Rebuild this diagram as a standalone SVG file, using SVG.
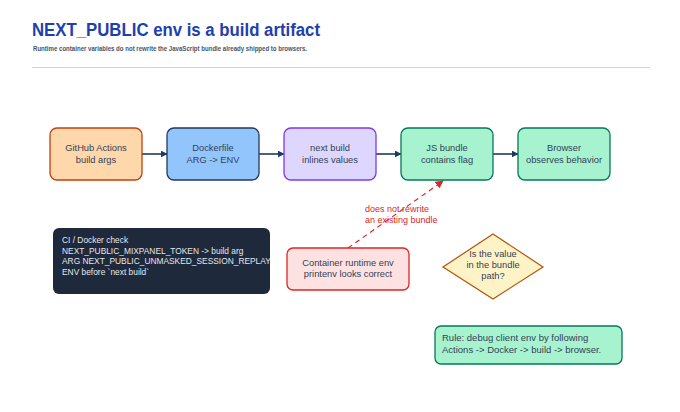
<svg xmlns="http://www.w3.org/2000/svg" width="680" height="412" viewBox="0 0 680 412">
<style>
.t{font-family:"Liberation Sans",Arial,sans-serif;}
.nt{font-family:"Liberation Sans",Arial,sans-serif;font-size:9.3px;fill:#334155;text-anchor:middle;}
.box{stroke-width:1.3;}
.edge{stroke:#1e3a5f;stroke-width:1.6;fill:none;}
</style>
<defs>
<marker id="ah" viewBox="0 0 10 10" refX="9" refY="5" markerWidth="7" markerHeight="7" orient="auto" markerUnits="userSpaceOnUse"><path d="M0,0 L10,5 L0,10 z" fill="#1e3a5f"/></marker>
<marker id="ahr" viewBox="0 0 10 10" refX="9" refY="5" markerWidth="8" markerHeight="8" orient="auto" markerUnits="userSpaceOnUse"><path d="M0,0 L10,5 L0,10 z" fill="#dc2626"/></marker>
<clipPath id="dc"><rect x="53" y="228" width="217" height="66" rx="6"/></clipPath>
</defs>
<rect width="680" height="412" fill="#ffffff"/>
<g id="header">
<text class="t" x="32" y="36" font-size="18" font-weight="bold" fill="#1e40af" textLength="288" lengthAdjust="spacingAndGlyphs">NEXT_PUBLIC env is a build artifact</text>
<text class="t" x="33" y="51" font-size="7.6" font-weight="bold" fill="#475569" textLength="274" lengthAdjust="spacingAndGlyphs">Runtime container variables do not rewrite the JavaScript bundle already shipped to browsers.</text>
<line x1="32" y1="67.5" x2="650" y2="67.5" stroke="#cbd5e1" stroke-width="1.2"/>
</g>
<g id="connectors">
<line class="edge" x1="142" y1="154" x2="167" y2="154" marker-end="url(#ah)"/>
<line class="edge" x1="259" y1="154" x2="284" y2="154" marker-end="url(#ah)"/>
<line class="edge" x1="376" y1="154" x2="401" y2="154" marker-end="url(#ah)"/>
<line class="edge" x1="493" y1="154" x2="518" y2="154" marker-end="url(#ah)"/>
<line x1="348" y1="248" x2="443" y2="181" stroke="#dc2626" stroke-width="1.2" stroke-dasharray="5,4" fill="none" marker-end="url(#ahr)"/>
<text class="t" x="365" y="212" font-size="9" fill="#dc2626">does not rewrite</text>
<text class="t" x="365" y="223" font-size="9" fill="#dc2626">an existing bundle</text>
</g>
<g id="github">
<rect class="box" x="50" y="128" width="92" height="52" rx="7" fill="#fed7aa" stroke="#c2410c"/>
<text class="nt" x="96" y="151">GitHub Actions</text>
<text class="nt" x="96" y="163">build args</text>
</g>
<g id="dockerfile">
<rect class="box" x="167" y="128" width="92" height="52" rx="7" fill="#93c5fd" stroke="#1e3a5f"/>
<text class="nt" x="213" y="151">Dockerfile</text>
<text class="nt" x="213" y="163">ARG -&gt; ENV</text>
</g>
<g id="nextbuild">
<rect class="box" x="284" y="128" width="92" height="52" rx="7" fill="#ddd6fe" stroke="#7c3aed"/>
<text class="nt" x="330" y="151">next build</text>
<text class="nt" x="330" y="163">inlines values</text>
</g>
<g id="jsbundle">
<rect class="box" x="401" y="128" width="92" height="52" rx="7" fill="#a7f3d0" stroke="#047857"/>
<text class="nt" x="447" y="151">JS bundle</text>
<text class="nt" x="447" y="163">contains flag</text>
</g>
<g id="browser">
<rect class="box" x="518" y="128" width="92" height="52" rx="7" fill="#a7f3d0" stroke="#047857"/>
<text class="nt" x="564" y="151">Browser</text>
<text class="nt" x="564" y="163">observes behavior</text>
</g>
<g id="cicheck">
<rect x="53" y="228" width="217" height="66" rx="6" fill="#1e293b"/>
<g clip-path="url(#dc)" class="t" font-size="8.4" fill="#e2e8f0">
<text x="62" y="243">CI / Docker check</text>
<text x="62" y="253.5">NEXT_PUBLIC_MIXPANEL_TOKEN -&gt; build arg</text>
<text x="62" y="264">ARG NEXT_PUBLIC_UNMASKED_SESSION_REPLAY</text>
<text x="62" y="274.5">ENV before `next build`</text>
</g>
</g>
<g id="runtime">
<rect class="box" x="287" y="248" width="122" height="42" rx="6" fill="#fee2e2" stroke="#dc2626"/>
<text class="nt" x="348" y="266" font-size="8.6">Container runtime env</text>
<text class="nt" x="348" y="277" font-size="8.6">printenv looks correct</text>
</g>
<g id="decision">
<polygon points="493,234 543,267 493,299 443,267" fill="#fef3c7" stroke="#b45309" stroke-width="1.2"/>
<text class="nt" x="493" y="257" font-size="8">Is the value</text>
<text class="nt" x="493" y="268" font-size="8">in the bundle</text>
<text class="nt" x="493" y="279" font-size="8">path?</text>
</g>
<g id="rule">
<rect class="box" x="435" y="326" width="187" height="38" rx="6" fill="#a7f3d0" stroke="#047857"/>
<text class="t" x="442" y="341" font-size="9.5" fill="#334155">Rule: debug client env by following</text>
<text class="t" x="442" y="353" font-size="9.5" fill="#334155">Actions -&gt; Docker -&gt; build -&gt; browser.</text>
</g>
</svg>
